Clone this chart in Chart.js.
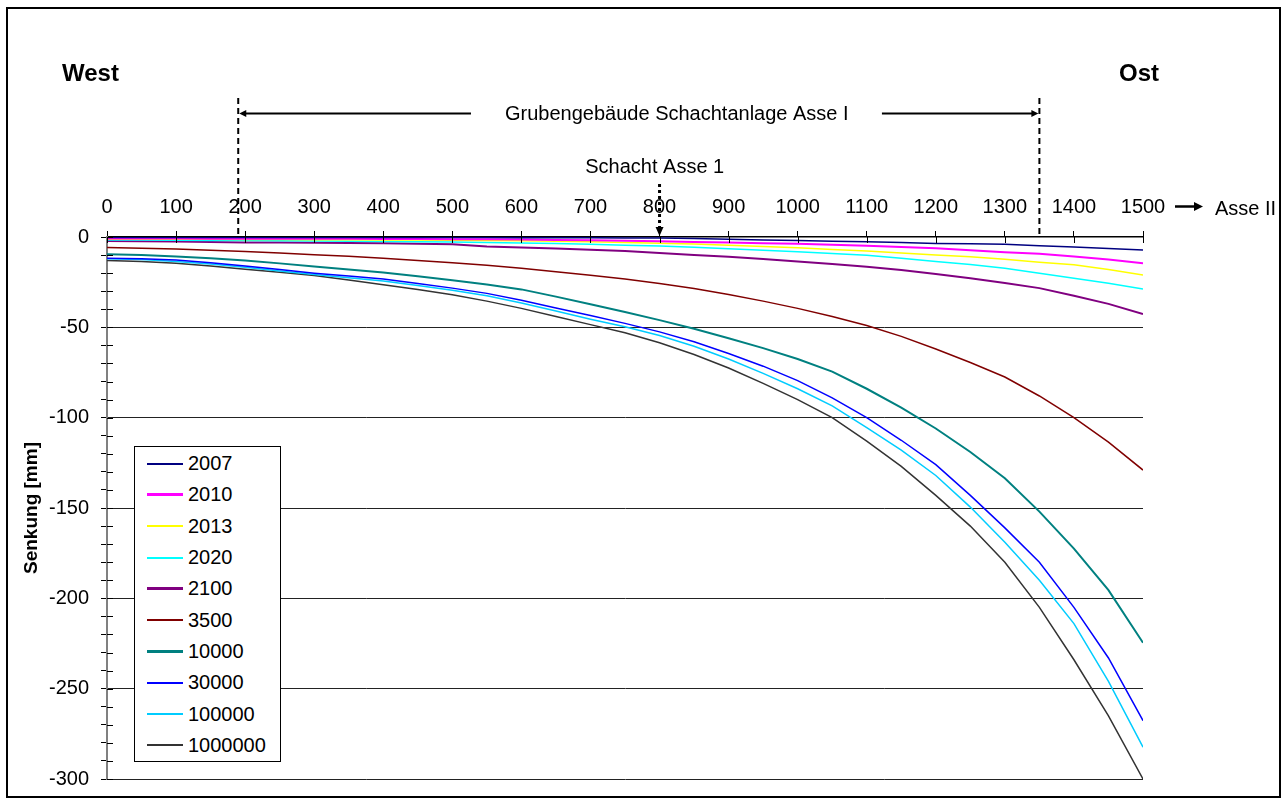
<!DOCTYPE html>
<html>
<head>
<meta charset="utf-8">
<title>Senkung</title>
<script src="https://cdn.jsdelivr.net/npm/chart.js@4.4.1/dist/chart.umd.min.js"></script>
<style>
  html, body { margin: 0; padding: 0; background: #fff; }
  #wrap { position: relative; width: 1287px; height: 803px; }
  #legend {
    position: absolute; left: 134px; top: 446px;
    width: 145px; height: 313px; padding-top: 1px;
    border: 1px solid #000; background: #fff;
    font: 20px 'Liberation Sans', Arial, sans-serif; color: #000;
  }
  #legend .row { display: flex; align-items: center; height: 31.3px; }
  #legend .sample { width: 36px; margin-left: 12px; margin-right: 5px; }
</style>
</head>
<body>
<div id="wrap">
  <canvas id="chart" width="1287" height="803"></canvas>
  <div id="legend"></div>
</div>
<script>
// Distance along the profile (m), West -> Ost
const distance = [0, 50, 100, 150, 200, 250, 300, 350, 400, 450, 500, 550, 600, 650, 700, 750,
                  800, 850, 900, 950, 1000, 1050, 1100, 1150, 1200, 1250, 1300, 1350, 1400, 1450, 1500];

// Time steps (years)
const years = ['2007', '2010', '2013', '2020', '2100', '3500', '10000', '30000', '100000', '1000000'];

// Subsidence in mm for each time step
const s2007 = [-0.3, -0.3, -0.3, -0.3, -0.3, -0.3, -0.3, -0.3, -0.3, -0.3, -0.3, -0.3, -0.4, -0.4, -0.4, -0.5,
               -0.6, -0.8, -1.2, -1.6, -2.0, -2.3, -2.6, -3.0, -3.6, -3.8, -4.0, -4.8, -5.6, -6.4, -7.2];
const s2010 = [-0.8, -0.8, -0.8, -0.9, -0.9, -1.0, -1.0, -1.0, -1.1, -1.1, -1.2, -1.3, -1.4, -1.6, -1.8, -2.1,
               -2.4, -2.7, -3.0, -3.4, -3.8, -4.3, -4.8, -5.5, -6.2, -7.4, -8.5, -9.3, -10.8, -12.4, -14.6];
const s2013 = [-1.2, -1.2, -1.3, -1.3, -1.4, -1.4, -1.5, -1.5, -1.6, -1.7, -1.8, -1.9, -2.1, -2.3, -2.6, -3.0,
               -3.4, -3.9, -4.5, -5.2, -6.0, -6.9, -7.8, -8.8, -9.9, -11.0, -12.3, -14.0, -15.4, -18.0, -21.0];
const s2020 = [-1.7, -1.7, -1.8, -1.9, -2.0, -2.1, -2.2, -2.3, -2.5, -2.6, -2.8, -3.0, -3.3, -3.6, -4.0, -4.5,
               -5.0, -5.7, -6.5, -7.3, -8.2, -9.1, -10.1, -11.8, -13.6, -15.2, -17.3, -20.0, -22.8, -25.6, -28.8];
const s2100 = [-2.2, -2.3, -2.5, -2.7, -3.0, -3.1, -3.2, -3.3, -3.5, -3.7, -4.0, -5.2, -5.8, -6.4, -7.0, -7.8,
               -8.8, -10.0, -11.0, -12.2, -13.5, -15.0, -16.5, -18.3, -20.5, -22.8, -25.5, -28.3, -32.5, -37.0, -42.6];
const s3500 = [-5.8, -6.2, -6.6, -7.3, -8.0, -8.9, -9.8, -10.7, -11.7, -13.0, -14.3, -15.6, -17.3, -19.2, -21.2, -23.3,
               -25.7, -28.5, -31.8, -35.5, -39.5, -44.0, -49.0, -55.0, -62.0, -69.5, -77.5, -88.0, -100.0, -113.5, -129.0];
const s10000 = [-9.5, -10.0, -10.8, -11.8, -13.0, -14.6, -16.3, -18.0, -19.6, -21.7, -24.0, -26.3, -29.0, -33.0, -37.2, -41.5,
                -46.0, -50.8, -56.0, -61.5, -67.5, -74.5, -84.0, -94.5, -106.0, -119.0, -133.5, -152.0, -172.5, -195.5, -224.6];
const s30000 = [-11.7, -12.0, -12.7, -14.2, -16.0, -18.0, -20.0, -21.6, -23.3, -25.7, -28.3, -31.2, -35.0, -39.3, -43.5, -47.8,
                -52.5, -58.0, -64.5, -71.5, -79.5, -89.0, -100.0, -112.5, -126.0, -143.0, -161.0, -180.0, -205.0, -233.0, -267.7];
const s100000 = [-12.0, -12.5, -13.5, -15.0, -16.8, -18.8, -20.8, -22.5, -24.3, -26.8, -29.5, -32.5, -36.5, -41.0, -45.5, -49.7,
                 -54.5, -60.5, -67.5, -75.5, -84.0, -93.5, -105.5, -118.0, -132.0, -149.5, -169.0, -190.0, -214.0, -246.0, -282.4];
const s1000000 = [-13.0, -13.5, -14.5, -16.0, -17.8, -19.5, -21.3, -23.8, -26.4, -29.0, -32.0, -35.5, -39.5, -44.0, -48.5, -53.0,
                  -58.5, -65.0, -72.5, -81.0, -90.0, -100.0, -113.0, -127.0, -143.0, -160.0, -180.0, -205.0, -234.0, -265.0, -300.0];

const seriesValues = [s2007, s2010, s2013, s2020, s2100, s3500, s10000, s30000, s100000, s1000000];
const seriesColors = ['#000080', '#FF00FF', '#FFFF00', '#00FFFF', '#800080',
                      '#800000', '#008080', '#0000FF', '#00CCFF', '#333333'];
const seriesWidths = [1.5, 2, 1.5, 1.5, 2, 1.5, 2, 1.5, 1.5, 1.5];

// Marked positions along the profile (m)
const minesStart = 190;   // Grubengebäude west boundary
const minesEnd = 1350;    // Grubengebäude east boundary
const shaftPos = 800;     // Schacht Asse 1

const FONT = "'Liberation Sans', Arial, Helvetica, sans-serif";
Chart.defaults.font.family = FONT;
Chart.defaults.color = '#000';

const datasets = years.map((yr, i) => ({
  label: yr,
  data: distance.map((d, k) => ({ x: d, y: seriesValues[i][k] })),
  borderColor: seriesColors[i],
  backgroundColor: seriesColors[i],
  borderWidth: seriesWidths[i],
  pointRadius: 0,
  tension: 0,
  fill: false
}));

function arrowHead(ctx, tipX, tipY, dir, len, half) {
  // dir: 'left' | 'right' | 'down'
  ctx.beginPath();
  if (dir === 'left') {
    ctx.moveTo(tipX, tipY); ctx.lineTo(tipX + len, tipY - half); ctx.lineTo(tipX + len, tipY + half);
  } else if (dir === 'right') {
    ctx.moveTo(tipX, tipY); ctx.lineTo(tipX - len, tipY - half); ctx.lineTo(tipX - len, tipY + half);
  } else {
    ctx.moveTo(tipX, tipY); ctx.lineTo(tipX - half, tipY - len); ctx.lineTo(tipX + half, tipY - len);
  }
  ctx.closePath();
  ctx.fill();
}

const decorations = {
  id: 'decorations',
  beforeDraw(chart) {
    const ctx = chart.ctx;
    ctx.save();
    ctx.fillStyle = '#fff';
    ctx.fillRect(0, 0, chart.width, chart.height);
    ctx.restore();
  },
  afterDraw(chart) {
    const { ctx, chartArea } = chart;
    const xs = chart.scales.x, ys = chart.scales.y;
    ctx.save();
    ctx.strokeStyle = '#000';
    ctx.fillStyle = '#000';

    // inner halves of the axis tick marks
    ctx.lineWidth = 1;
    xs.ticks.forEach(t => {
      const px = Math.round(xs.getPixelForValue(t.value)) + 0.5;
      ctx.beginPath(); ctx.moveTo(px, chartArea.top); ctx.lineTo(px, chartArea.top + 6); ctx.stroke();
    });
    ys.ticks.forEach(t => {
      const py = Math.round(ys.getPixelForValue(t.value)) + 0.5;
      ctx.beginPath(); ctx.moveTo(chartArea.left, py); ctx.lineTo(chartArea.left + 6, py); ctx.stroke();
    });

    // West / Ost
    ctx.font = 'bold 24px ' + FONT;
    ctx.textBaseline = 'alphabetic';
    ctx.textAlign = 'left';
    ctx.fillText('West', 62, 81);
    ctx.fillText('Ost', 1119, 81);

    // boundaries of the mine workings
    const xA = xs.getPixelForValue(minesStart);
    const xB = xs.getPixelForValue(minesEnd);
    ctx.lineWidth = 2;
    ctx.setLineDash([6, 4]);
    [xA, xB].forEach(px => {
      ctx.beginPath(); ctx.moveTo(px, 98); ctx.lineTo(px, chartArea.top); ctx.stroke();
    });
    ctx.setLineDash([]);

    // span arrows and label
    const yArrow = 113.5;
    ctx.lineWidth = 2;
    ctx.beginPath(); ctx.moveTo(xA + 6, yArrow); ctx.lineTo(xs.getPixelForValue(527), yArrow); ctx.stroke();
    arrowHead(ctx, xA + 1, yArrow, 'left', 7, 3.5);
    ctx.beginPath(); ctx.moveTo(xs.getPixelForValue(1122), yArrow); ctx.lineTo(xB - 6, yArrow); ctx.stroke();
    arrowHead(ctx, xB - 1, yArrow, 'right', 7, 3.5);

    ctx.font = '20px ' + FONT;
    ctx.textAlign = 'center';
    ctx.fillText('Grubengebäude Schachtanlage Asse I', xs.getPixelForValue(825), 120);

    // shaft
    const xS = xs.getPixelForValue(shaftPos);
    ctx.fillText('Schacht Asse 1', xs.getPixelForValue(793), 172.5);
    ctx.lineWidth = 3;
    ctx.setLineDash([3, 3]);
    ctx.beginPath(); ctx.moveTo(xS, 184); ctx.lineTo(xS, chartArea.top - 9); ctx.stroke();
    ctx.setLineDash([]);
    arrowHead(ctx, xS, chartArea.top - 1, 'down', 9, 4);

    // direction to Asse II
    const xEnd = xs.getPixelForValue(1500);
    ctx.lineWidth = 2.5;
    ctx.beginPath(); ctx.moveTo(xEnd + 32, 206.5); ctx.lineTo(xEnd + 52, 206.5); ctx.stroke();
    arrowHead(ctx, xEnd + 60, 206.5, 'right', 9, 4.5);
    ctx.textAlign = 'left';
    ctx.fillText('Asse II', xEnd + 72, 215);

    // outer frame
    ctx.lineWidth = 2;
    ctx.strokeRect(7, 8, 1273, 789);
    ctx.restore();
  }
};

const chart = new Chart(document.getElementById('chart'), {
  type: 'line',
  data: { datasets },
  options: {
    responsive: false,
    animation: false,
    devicePixelRatio: 1,
    layout: { padding: { left: 0, top: 0, right: 144, bottom: 21 } },
    plugins: { legend: { display: false }, tooltip: { enabled: false } },
    scales: {
      x: {
        type: 'linear',
        position: 'top',
        min: 0, max: 1500,
        ticks: { stepSize: 100, autoSkip: false, maxRotation: 0, padding: 12, color: '#000',
                 font: { size: 20 }, callback: v => String(v) },
        grid: { drawOnChartArea: false, drawTicks: true, tickLength: 6, tickColor: '#000' },
        border: { color: '#000', width: 1.5 },
        afterFit(scale) { scale.height = 237; }
      },
      y: {
        type: 'linear',
        min: -300, max: 0,
        ticks: {
          stepSize: 10, autoSkip: false, padding: 12, color: '#000', font: { size: 20 },
          callback: v => (v % 50 === 0 ? String(v) : '')
        },
        grid: {
          color: ctx => (ctx.tick && ctx.tick.value % 50 === 0 && ctx.tick.value !== 0) ? '#222' : 'rgba(0,0,0,0)',
          lineWidth: 1,
          drawTicks: true, tickLength: 6, tickColor: '#000'
        },
        border: { color: '#808080', width: 2 },
        title: {
          display: true, text: 'Senkung [mm]', color: '#000',
          font: { size: 19, weight: 'bold' }, padding: { top: 20, bottom: 0 }
        },
        afterFit(scale) { scale.width = 107; }
      }
    }
  },
  plugins: [decorations]
});

// legend box built from the datasets
const legendEl = document.getElementById('legend');
chart.data.datasets.forEach(ds => {
  const row = document.createElement('div');
  row.className = 'row';
  const sample = document.createElement('span');
  sample.className = 'sample';
  sample.style.height = Math.round(ds.borderWidth + 0.5) + 'px';
  sample.style.background = ds.borderColor;
  const label = document.createElement('span');
  label.textContent = ds.label;
  row.appendChild(sample);
  row.appendChild(label);
  legendEl.appendChild(row);
});
</script>
</body>
</html>
